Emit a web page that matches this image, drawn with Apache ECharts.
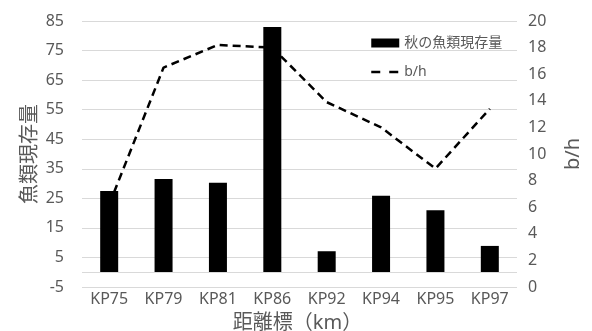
<!DOCTYPE html>
<html>
<head>
<meta charset="utf-8">
<script src="https://cdn.jsdelivr.net/npm/echarts@6/dist/echarts.min.js"></script>
<style>
html,body{margin:0;padding:0;background:#fff;}
#c{width:592px;height:331px;}
</style>
</head>
<body>
<div id="c"></div>
<script>
const categories = ['KP75','KP79','KP81','KP86','KP92','KP94','KP95','KP97'];
const fishBiomass = [27.5, 31.5, 30.3, 83.0, 7.1, 25.9, 21.0, 8.9];
const bhRatio = [6.2, 16.5, 18.2, 18.0, 13.9, 12.0, 8.9, 13.4];
const barName = '秋の魚類現存量';
const lineName = 'b/h';

const FONT = "'Noto Sans', 'Noto Sans CJK JP', sans-serif";
const GRAY = '#595959';
const GRID = '#d9d9d9';

const chart = echarts.init(document.getElementById('c'), null, {renderer: 'canvas'});
chart.setOption({
  animation: false,
  backgroundColor: '#fff',
  textStyle: {fontFamily: FONT},
  grid: {left: 82, right: 75, top: 21, bottom: 44, containLabel: false, outerBoundsMode: 'none'},
  legend: {
    orient: 'vertical',
    left: 370,
    top: 36,
    padding: 0,
    itemGap: 15,
    itemWidth: 28,
    itemHeight: 9,
    textStyle: {fontFamily: FONT, fontSize: 14, color: GRAY},
    data: [
      {name: barName, icon: 'rect'},
      {name: lineName, itemStyle: {color: 'rgba(0,0,0,0)', borderColor: 'rgba(0,0,0,0)', borderWidth: 0},
       lineStyle: {color: '#000', width: 2.5, type: [9, 9]}}
    ]
  },
  xAxis: {
    type: 'category',
    data: categories,
    boundaryGap: true,
    axisLine: {show: false, onZero: false},
    axisTick: {show: false},
    axisLabel: {color: GRAY, fontSize: 16, fontFamily: FONT, margin: 4, interval: 0},
    name: '距離標（km）',
    nameLocation: 'middle',
    nameMoveOverlap: false,
    nameGap: 26,
    nameTextStyle: {color: GRAY, fontSize: 20, fontFamily: FONT, padding: [0, 4, 0, 0]}
  },
  yAxis: [
    {
      type: 'value',
      min: -5,
      max: 85,
      interval: 10,
      axisLine: {show: false},
      axisTick: {show: false},
      splitLine: {show: true, lineStyle: {color: GRID, width: 1}},
      axisLabel: {color: GRAY, fontSize: 16, fontFamily: FONT, margin: 18},
      name: '魚類現存量',
      nameLocation: 'middle',
      nameMoveOverlap: false,
      nameRotate: 90,
      nameGap: 42,
      nameTextStyle: {color: GRAY, fontSize: 20, fontFamily: FONT}
    },
    {
      type: 'value',
      min: 0,
      max: 20,
      interval: 2,
      position: 'right',
      axisLine: {show: false},
      axisTick: {show: false},
      splitLine: {show: false},
      axisLabel: {color: GRAY, fontSize: 16, fontFamily: FONT, margin: 11},
      name: 'b/h',
      nameLocation: 'middle',
      nameRotate: 90,
      nameGap: 46,
      nameTextStyle: {color: GRAY, fontSize: 20, fontFamily: FONT}
    }
  ],
  series: [
    {
      name: barName,
      type: 'bar',
      yAxisIndex: 0,
      data: fishBiomass,
      barWidth: 18,
      itemStyle: {color: '#000'},
      markLine: {
        silent: true,
        symbol: 'none',
        label: {show: false},
        lineStyle: {color: GRID, width: 1, type: 'solid'},
        data: [{yAxis: 0}]
      },
      z: 3
    },
    {
      name: lineName,
      type: 'line',
      yAxisIndex: 1,
      data: bhRatio,
      symbol: 'none',
      lineStyle: {color: '#000', width: 2.5, type: [8, 5]},
      itemStyle: {color: '#000'},
      z: 4
    }
  ]
});
</script>
</body>
</html>
